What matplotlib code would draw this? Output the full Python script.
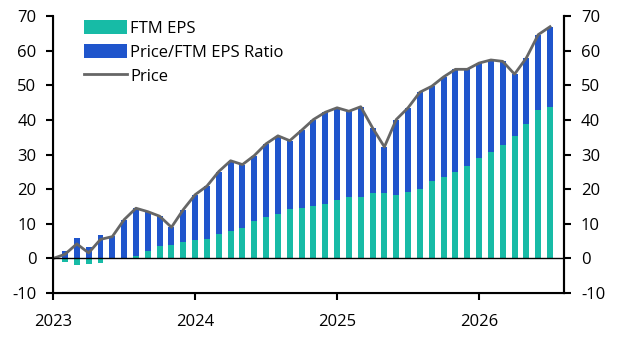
import numpy as np
import matplotlib
matplotlib.use("Agg")
from matplotlib import pyplot as plt

# monthly, Jan 2023 .. Jul 2026 (index 0 = Jan 2023)
eps = [0.0, -1.0, -1.8, -1.7, -1.3, -0.3, 0.1, 0.8, 2.2, 3.5, 4.0, 4.8,
       5.4, 5.7, 7.1, 8.0, 8.9, 10.8, 12.0, 12.9, 14.3, 14.6, 15.1, 15.6,
       17.0, 17.8, 17.8, 18.8, 18.8, 18.3, 19.3, 20.1, 22.4, 23.6, 25.0, 26.8,
       29.1, 30.8, 32.8, 35.4, 38.8, 42.9, 43.8]
price = [0.0, 1.2, 4.2, 1.6, 5.5, 6.3, 11.2, 14.5, 13.5, 12.2, 9.0, 14.1,
         18.4, 20.9, 25.1, 28.2, 27.1, 29.7, 33.1, 35.4, 34.0, 37.0, 40.1, 42.2,
         43.5, 42.5, 43.8, 37.7, 32.2, 40.1, 43.5, 48.0, 49.7, 52.4, 54.6, 54.6,
         56.4, 57.3, 56.9, 53.2, 57.9, 64.6, 66.9]
year_ticks = [0, 12, 24, 36]
year_labels = ["2023", "2024", "2025", "2026"]

plt.rcParams['font.family'] = ['Open Sans', 'DejaVu Sans']
plt.rcParams['axes.unicode_minus'] = False

eps = np.array(eps)
price = np.array(price)
ratio = price - eps
x = np.arange(len(eps))

fig = plt.figure(figsize=(6.18, 3.4), dpi=100)
ax = fig.add_axes([0.086, 0.138, 0.827, 0.815])

teal = "#17bba6"
blue = "#1f55cc"
h1 = ax.bar(x, eps, width=0.5, color=teal, label="FTM EPS", zorder=2)
h2 = ax.bar(x, ratio, width=0.5, bottom=np.where(eps > 0, eps, 0), color=blue,
            label="Price/FTM EPS Ratio", zorder=2)
h3, = ax.plot(x, price, color="#666666", lw=2, label="Price", zorder=3)
ax.axhline(0, color="black", lw=1, zorder=4)

ax.set_xlim(0, 43.2)
ax.set_ylim(-10, 70)
ax.set_yticks(range(-10, 71, 10))
ax.set_xticks(year_ticks)
ax.set_xticklabels(year_labels)

for s in ["left", "bottom", "right"]:
    ax.spines[s].set_linewidth(1.5)
ax.spines["top"].set_visible(False)
ax.tick_params(axis="both", labelsize=12, width=1.5, length=5)
ax.tick_params(axis="y", pad=7)
ax.tick_params(axis="x", pad=10)

ax2 = ax.twinx()
ax2.set_ylim(-10, 70)
ax2.set_yticks(range(-10, 71, 10))
ax2.spines["top"].set_visible(False)
ax2.spines["right"].set_linewidth(1.5)
ax2.tick_params(axis="y", labelsize=12, width=1.5, length=5, pad=7)

fig.legend(handles=[h1, h2, h3], loc="upper left", bbox_to_anchor=(76 / 618, 1 - 12 / 340),
           frameon=False, fontsize=12, borderpad=0, handlelength=2.55, handleheight=0.85,
           labelspacing=0.45, handletextpad=0.2)

fig.savefig("out.png")
